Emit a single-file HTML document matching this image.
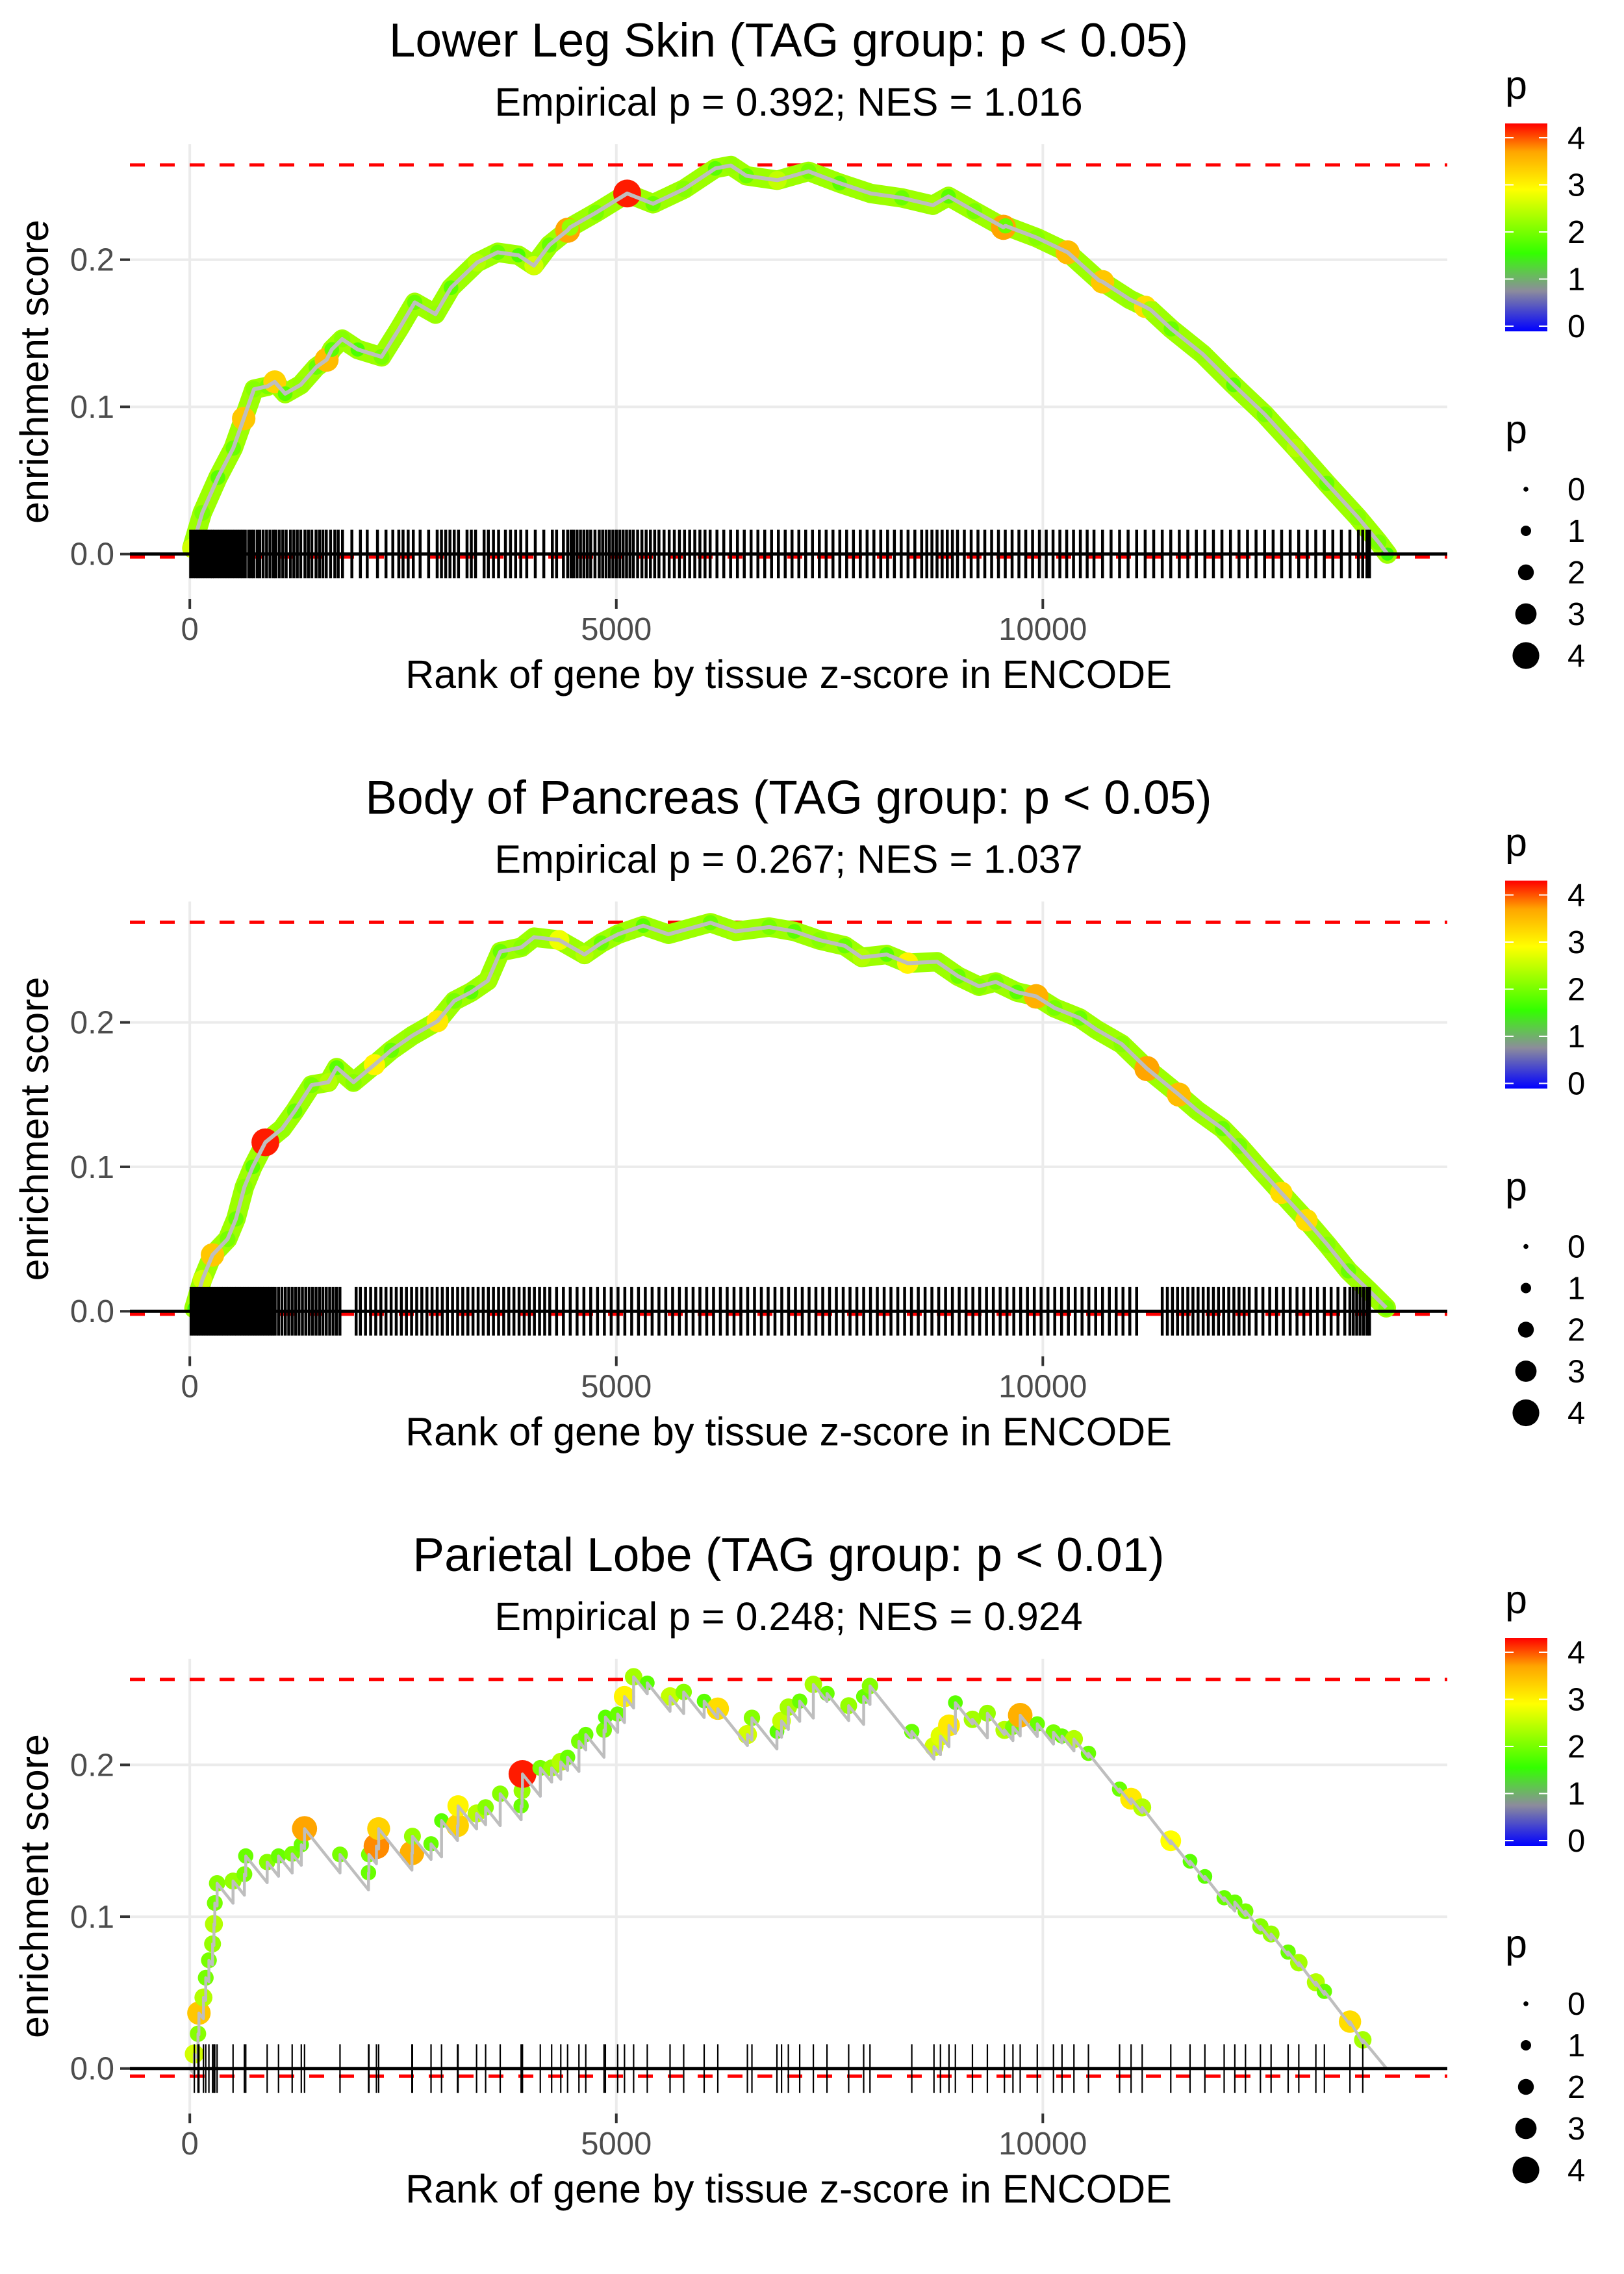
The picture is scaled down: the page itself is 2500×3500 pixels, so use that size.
<!DOCTYPE html>
<html><head><meta charset="utf-8">
<style>
html,body{margin:0;padding:0;background:#fff;}
svg{display:block;font-family:"Liberation Sans",Arial,sans-serif;}
</style></head>
<body>
<svg id="chart" width="2500" height="3500" viewBox="0 0 2500 3500" xmlns="http://www.w3.org/2000/svg">
<defs>
<linearGradient id="pgrad" x1="0" y1="0" x2="0" y2="1">
<stop offset="0" stop-color="#ff0000"/>
<stop offset="0.136" stop-color="#ffa500"/>
<stop offset="0.317" stop-color="#ffff00"/>
<stop offset="0.624" stop-color="#33ff00"/>
<stop offset="0.805" stop-color="#8c8c9c"/>
<stop offset="1" stop-color="#0000ff"/>
</linearGradient>
</defs>
<rect width="2500" height="3500" fill="#fff"/>

<g id="panel0" transform="translate(0,0)">
<text x="1214" y="87" font-size="73" text-anchor="middle">Lower Leg Skin (TAG group: p &lt; 0.05)</text>
<text x="1214" y="178" font-size="61" text-anchor="middle">Empirical p = 0.392; NES = 1.016</text>
<text x="1214" y="1059" font-size="61" text-anchor="middle">Rank of gene by tissue z-score in ENCODE</text>
<text transform="translate(74,572) rotate(-90)" font-size="61" text-anchor="middle">enrichment score</text>
<text x="2317" y="152" font-size="61">p</text>
<text x="2317" y="682" font-size="61">p</text>
</g>

<g id="panel1" transform="translate(0,1165.5)">
<text x="1214" y="87" font-size="73" text-anchor="middle">Body of Pancreas (TAG group: p &lt; 0.05)</text>
<text x="1214" y="178" font-size="61" text-anchor="middle">Empirical p = 0.267; NES = 1.037</text>
<text x="1214" y="1059" font-size="61" text-anchor="middle">Rank of gene by tissue z-score in ENCODE</text>
<text transform="translate(74,572) rotate(-90)" font-size="61" text-anchor="middle">enrichment score</text>
<text x="2317" y="152" font-size="61">p</text>
<text x="2317" y="682" font-size="61">p</text>
</g>

<g id="panel2" transform="translate(0,2331)">
<text x="1214" y="87" font-size="73" text-anchor="middle">Parietal Lobe (TAG group: p &lt; 0.01)</text>
<text x="1214" y="178" font-size="61" text-anchor="middle">Empirical p = 0.248; NES = 0.924</text>
<text x="1214" y="1059" font-size="61" text-anchor="middle">Rank of gene by tissue z-score in ENCODE</text>
<text transform="translate(74,572) rotate(-90)" font-size="61" text-anchor="middle">enrichment score</text>
<text x="2317" y="152" font-size="61">p</text>
<text x="2317" y="682" font-size="61">p</text>
</g>
</svg>

<script>
// ---------- data ----------
const xTicks = [0, 5000, 10000];
const xTickLabels = ['0', '5000', '10000'];
const yTicks = [0, 0.1, 0.2];
const yTickLabels = ['0.0', '0.1', '0.2'];
const legendBreaks = [0, 1, 2, 3, 4];
const esMax = [0.2644, 0.2694, 0.2563];
const esMin = [-0.002, -0.002, -0.005];
const endRank = [14040, 14030, 14030];

const p1Ranks = [24,146,330,510,632,753,911,996,1118,1300,1482,1604,1665,1786,1968,2248,2454,2637,2880,3062,3366,3609,3852,4034,4216,4430,4459,4763,5127,5431,5796,6160,6343,6525,6889,7254,7618,7983,8347,8712,8894,9198,9538,9562,9927,10291,10656,10700,11020,11200,11263,11506,11871,12235,12600,12964,13329,13693,13936,14040];
const p1ES = [.004,.028,.052,.072,.092,.112,.114,.117,.109,.115,.127,.132,.139,.146,.139,.134,.153,.171,.163,.181,.198,.205,.203,.196,.210,.220,.222,.232,.245,.238,.248,.262,.264,.257,.254,.260,.252,.245,.242,.237,.243,.233,.222,.223,.215,.205,.186,.185,.173,.168,.166,.153,.136,.115,.095,.072,.048,.025,.008,.000];
const p1P = [2.6,2.0,1.8,1.9,3.4,2.1,2.0,3.3,1.8,2.2,1.9,3.5,1.8,2.1,1.7,2.0,2.3,1.9,2.2,1.8,2.4,1.9,1.7,2.6,1.9,3.7,2.2,2.0,4.2,1.9,2.1,1.8,2.2,1.9,2.5,2.0,1.8,2.2,1.9,2.3,1.8,2.0,3.7,1.9,2.1,3.5,2.0,3.4,2.2,3.2,2.3,1.9,2.2,1.8,2.0,2.4,1.9,2.1,2.0,1.5];
const p1Rug = [10,40,70,95,120,150,180,210,240,265,290,320,350,380,410,440,470,500,530,560,590,620,650,690,720,750,790,820,860,900,940,980,1010,1050,1090,1130,1180,1220,1260,1300,1350,1390,1430,1480,1520,1560,1600,1650,1700,1740,1790,1900,2000,2080,2200,2300,2380,2450,2500,2560,2620,2700,2800,2900,2950,3000,3050,3100,3150,3250,3300,3350,3450,3500,3560,3620,3700,3760,3820,3880,3950,4050,4150,4250,4300,4380,4430,4470,4500,4540,4580,4620,4660,4700,4750,4800,4840,4880,4920,4960,5000,5040,5080,5120,5160,5200,5250,5300,5350,5400,5450,5500,5560,5620,5680,5740,5800,5860,5920,5980,6040,6100,6180,6260,6340,6420,6500,6580,6660,6740,6820,6900,6980,7060,7140,7220,7300,7380,7460,7540,7620,7700,7780,7860,7940,8020,8100,8180,8260,8340,8420,8500,8580,8640,8700,8760,8820,8880,8940,9000,9080,9160,9240,9320,9400,9480,9560,9640,9720,9800,9880,9960,10040,10120,10200,10280,10360,10440,10520,10600,10700,10800,10900,11000,11100,11200,11300,11400,11500,11600,11700,11800,11900,12000,12100,12200,12300,12400,12500,12600,12700,12800,12900,13000,13100,13200,13300,13400,13500,13600,13700,13750,13800,13830];

const p2Ranks = [49,148,266,443,541,640,738,886,1083,1230,1427,1624,1722,1919,2165,2362,2608,2904,3100,3297,3494,3641,3888,4036,4331,4627,4824,5020,5315,5611,6103,6398,6792,7087,7383,7678,7875,8170,8416,8760,9006,9252,9449,9695,9922,10138,10433,10630,10925,11221,11595,11811,12107,12304,12550,12796,13091,13337,13583,13829,14026];
const p2ES = [.002,.022,.039,.050,.064,.086,.100,.117,.1265,.1386,.1566,.1586,.1687,.1586,.1707,.1807,.1908,.2008,.2149,.2209,.2289,.249,.252,.259,.257,.247,.255,.261,.267,.261,.269,.263,.266,.263,.257,.253,.245,.247,.241,.242,.232,.225,.228,.221,.218,.210,.203,.195,.185,.168,.150,.139,.1265,.1145,.098,.082,.063,.046,.028,.014,.0024];
const p2P = [1.5,2.6,3.4,2.0,1.9,2.1,1.8,4.2,2.2,1.9,2.0,2.4,1.8,2.1,3.0,1.9,2.2,3.1,2.0,1.8,2.3,1.9,2.1,2.2,2.8,2.4,1.9,2.0,1.8,2.2,1.9,2.3,2.0,1.8,2.1,1.9,2.4,1.8,3.0,2.2,1.9,2.1,2.0,1.8,3.6,2.0,1.9,2.2,2.1,3.7,3.5,2.2,1.9,2.0,2.3,3.2,3.2,2.1,1.9,2.2,2.0];
const p2Rug = [15,45,75,100,130,160,190,220,250,280,310,340,370,400,430,460,490,520,550,580,610,640,670,700,730,760,790,820,850,880,910,940,970,1000,1040,1080,1120,1160,1200,1240,1280,1320,1360,1400,1440,1480,1520,1560,1600,1640,1680,1720,1760,1950,2000,2060,2120,2180,2240,2300,2360,2420,2480,2540,2600,2660,2720,2780,2840,2900,2960,3020,3080,3140,3200,3260,3320,3380,3440,3500,3560,3620,3680,3740,3800,3860,3920,3980,4040,4100,4160,4220,4300,4380,4460,4540,4620,4700,4780,4860,4940,5020,5100,5180,5260,5340,5420,5500,5580,5660,5740,5820,5900,5980,6060,6140,6220,6300,6380,6460,6540,6620,6700,6780,6860,6940,7020,7100,7180,7260,7340,7420,7500,7580,7660,7740,7820,7900,7980,8060,8140,8220,8300,8380,8460,8540,8620,8700,8780,8860,8940,9020,9100,9180,9260,9340,9420,9500,9580,9660,9740,9820,9900,9980,10060,10140,10220,10300,10380,10460,10540,10620,10700,10780,10860,10940,11020,11100,11400,11460,11520,11580,11640,11700,11760,11820,11880,11940,12000,12060,12120,12180,12240,12300,12360,12420,12500,12580,12660,12740,12820,12900,12980,13060,13140,13220,13300,13380,13460,13540,13600,13640,13680,13720,13760,13800,13830];

const p3Ranks = [53,96,107,160,187,224,267,283,293,320,507,640,656,907,1040,1200,1307,1345,1761,2095,2100,2188,2214,2604,2610,2828,2951,3138,3145,3362,3468,3639,3884,3895,3900,4109,4242,4349,4429,4562,4642,4856,4872,5016,5096,5203,5363,5630,5790,6030,6190,6537,6590,6883,6937,7017,7150,7310,7470,7724,7900,7974,8464,8724,8800,8900,8975,9175,9350,9550,9650,9735,9935,10125,10225,10365,10535,10900,11035,11165,11500,11726,11900,12126,12251,12376,12551,12676,12876,13001,13201,13301,13601,13751];
const p3ES = [.0096,.0229,.0365,.0468,.0598,.0713,.0821,.0952,.109,.122,.1235,.128,.140,.136,.140,.1414,.1474,.158,.141,.129,.141,.1464,.158,.142,.153,.148,.1633,.160,.173,.168,.172,.181,.173,.183,.194,.198,.198,.202,.205,.2155,.220,.223,.2315,.2335,.245,.258,.254,.245,.248,.242,.237,.220,.231,.222,.229,.238,.242,.253,.247,.239,.245,.252,.222,.212,.219,.226,.241,.230,.234,.223,.225,.2327,.227,.2215,.219,.217,.2076,.184,.1777,.172,.150,.1365,.1265,.1125,.1096,.1036,.0936,.0886,.0767,.0697,.0568,.0508,.0309,.0189];
const p3P = [2.6,2.1,3.4,2.4,2.0,2.0,2.2,2.4,2.0,2.1,2.2,2.0,1.9,2.1,1.9,2.0,1.9,3.7,2.0,1.9,2.0,3.8,3.3,3.6,2.2,1.9,1.8,3.3,3.0,2.4,2.1,2.1,1.9,2.2,4.2,2.0,2.2,2.4,1.9,2.0,1.9,2.0,1.8,1.9,3.0,2.3,1.8,2.5,2.1,1.8,3.2,2.6,2.1,1.8,2.5,2.3,1.9,2.3,1.9,2.2,1.9,2.1,1.9,2.6,2.7,3.1,1.8,2.3,2.2,2.4,2.0,3.6,1.9,2.0,1.9,2.4,1.9,1.9,3.1,2.4,2.9,1.8,1.8,1.9,1.9,2.0,2.1,2.2,1.9,2.3,2.4,1.9,3.2,2.3];
const p3Decline = 0.00007; // running-sum decrement per non-hit gene

// ---------- scales ----------
const NS = 'http://www.w3.org/2000/svg';
const PANEL_TOP = 222, PANEL_H = 700, PANEL_L = 200, PANEL_R = 2228;
const xDom = [-702, 14742];
function X(r) { return PANEL_L + (r - xDom[0]) / (xDom[1] - xDom[0]) * (PANEL_R - PANEL_L); }
function makeY(i) {
  const hi = esMax[i], lo = -esMax[i] / 16, R = hi - lo;
  const d0 = lo - 0.05 * R, d1 = hi + 0.05 * R;
  return v => PANEL_TOP + PANEL_H - (v - d0) / (d1 - d0) * PANEL_H;
}
const colorStops = [[-0.11,[0,0,255]],[0.75,[140,140,156]],[1.55,[51,255,0]],[2.9,[255,255,0]],[3.7,[255,165,0]],[4.3,[255,0,0]]];
function pColor(p) {
  if (p <= colorStops[0][0]) return 'rgb(0,0,255)';
  for (let k = 1; k < colorStops.length; k++) {
    if (p <= colorStops[k][0]) {
      const a = colorStops[k-1], b = colorStops[k], t = (p - a[0]) / (b[0] - a[0]);
      const c = a[1].map((v, j) => Math.round(v + (b[1][j] - v) * t));
      return 'rgb(' + c.join(',') + ')';
    }
  }
  return 'rgb(255,0,0)';
}
function pRadius(p) { return 3.8 + 4.2 * p; }
function el(tag, attrs, parent) {
  const e = document.createElementNS(NS, tag);
  for (const k in attrs) e.setAttribute(k, attrs[k]);
  parent.appendChild(e);
  return e;
}

function drawPanel(i, ranks, es, ps, rug, zigzag) {
  const g = document.getElementById('panel' + i);
  const Y = makeY(i);
  const first = g.firstChild;
  const layer = document.createElementNS(NS, 'g');
  
  
  g.insertBefore(layer, first);

  yTicks.forEach((t, k) => {
    const l = el('line', {x1: PANEL_L, x2: PANEL_R, y1: Y(t), y2: Y(t), stroke: '#ebebeb', 'stroke-width': 4}, layer);
    
    
  });
  xTicks.forEach((t, k) => {
    const l = el('line', {x1: X(t), x2: X(t), y1: PANEL_TOP, y2: PANEL_TOP + PANEL_H, stroke: '#ebebeb', 'stroke-width': 4}, layer);
    
    
  });
  [esMax[i], esMin[i]].forEach((v, k) => {
    const l = el('line', {x1: PANEL_L, x2: PANEL_R, y1: Y(v), y2: Y(v), stroke: '#ff0000', 'stroke-width': 5, 'stroke-dasharray': '23 23'}, layer);
    
    
  });

  let pts = [];
  if (zigzag) {
    pts.push([X(0), Y(0)]);
    let prev = 0, prevR = 0;
    const valleys = [];
    ranks.forEach((r, k) => {
      let v = prev - p3Decline * (r - prevR);
      if (v > es[k] - 0.002) v = es[k] - 0.002;
      valleys.push([r, v]);
      pts.push([X(r), Y(v)]);
      pts.push([X(r), Y(es[k])]);
      prev = es[k]; prevR = r;
    });
    pts.push([X(endRank[i]), Y(0)]);
    ranks.forEach((r, k) => {
      const c = el('circle', {cx: X(r), cy: Y(es[k]), r: pRadius(ps[k]), fill: pColor(ps[k])}, layer);
      
      
    });
    valleys.forEach(v => {
      const c = el('circle', {cx: X(v[0]), cy: Y(v[1]), r: 2, fill: '#0000ff'}, layer);
      
      
    });
    const line = el('polyline', {points: pts.map(p => p.join(',')).join(' '), fill: 'none', stroke: '#bebebe', 'stroke-width': 4.5, 'stroke-linejoin': 'round'}, layer);
    
    
  } else {
    pts = ranks.map((r, k) => [X(r), Y(es[k])]);
    const ptsStr = pts.map(p => p.join(',')).join(' ');
    const halo = el('polyline', {points: ptsStr, fill: 'none', stroke: '#9cff00', 'stroke-width': 30, 'stroke-linejoin': 'round', 'stroke-linecap': 'round'}, layer);
    
    
    ranks.forEach((r, k) => {
      const c = el('circle', {cx: X(r), cy: Y(es[k]), r: pRadius(ps[k]), fill: pColor(ps[k])}, layer);
      
      
    });
    const line = el('polyline', {points: ptsStr, fill: 'none', stroke: '#bebebe', 'stroke-width': 6, 'stroke-linejoin': 'round'}, layer);
    
    
  }

  const rh = esMax[i] / 16;
  rug.forEach(r => {
    const l = el('line', {x1: X(r), x2: X(r), y1: Y(rh), y2: Y(-rh), stroke: '#000', 'stroke-width': zigzag ? 2.2 : 4.5}, layer);
    
    
  });
  const z = el('line', {x1: PANEL_L, x2: PANEL_R, y1: Y(0), y2: Y(0), stroke: '#000', 'stroke-width': 5}, layer);
  
  

  yTicks.forEach((t, k) => {
    const tk = el('line', {x1: 185, x2: 200, y1: Y(t), y2: Y(t), stroke: '#333', 'stroke-width': 4}, layer);
    
    
    const tx = el('text', {x: 176, y: Y(t) + 17, 'font-size': 49, fill: '#4d4d4d', 'text-anchor': 'end'}, layer);
    tx.textContent = yTickLabels[k];
    
    
  });
  xTicks.forEach((t, k) => {
    const tk = el('line', {x1: X(t), x2: X(t), y1: 922, y2: 937, stroke: '#333', 'stroke-width': 4}, layer);
    
    
    const tx = el('text', {x: X(t), y: 985, 'font-size': 49, fill: '#4d4d4d', 'text-anchor': 'middle'}, layer);
    tx.textContent = xTickLabels[k];
    
    
  });

  const bar = el('rect', {x: 2317, y: 190, width: 65, height: 320, fill: 'url(#pgrad)'}, g);
  
  
  legendBreaks.forEach(b => {
    const yy = 502 - 72.5 * b;
    const t1 = el('line', {x1: 2317, x2: 2330, y1: yy, y2: yy, stroke: '#fff', 'stroke-width': 2}, g);
    
    
    const t2 = el('line', {x1: 2369, x2: 2382, y1: yy, y2: yy, stroke: '#fff', 'stroke-width': 2}, g);
    
    
    const lb = el('text', {x: 2413, y: yy + 17, 'font-size': 49}, g);
    lb.textContent = String(b);
    
    
  });
  legendBreaks.forEach((b, k) => {
    const yy = 753 + 64 * k;
    const c = el('circle', {cx: 2349, cy: yy, r: pRadius(b), fill: '#000'}, g);
    
    
    const lb = el('text', {x: 2413, y: yy + 17, 'font-size': 49}, g);
    lb.textContent = String(b);
    
    
  });
}

drawPanel(0, p1Ranks, p1ES, p1P, p1Rug, false);
drawPanel(1, p2Ranks, p2ES, p2P, p2Rug, false);
drawPanel(2, p3Ranks, p3ES, p3P, p3Ranks, true);
</script>
</body></html>
